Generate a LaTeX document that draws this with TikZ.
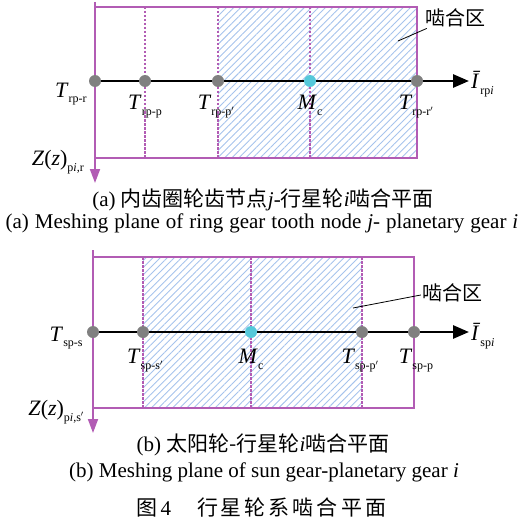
\documentclass[tikz,border=0pt]{standalone}
\usepackage{fontspec}
\setmainfont{Liberation Serif}
\newfontfamily\cjk{Noto Sans CJK SC}
\usepackage{xcolor}
\usetikzlibrary{arrows.meta, positioning, patterns.meta}

\definecolor{plum}{HTML}{B25CB4}
\definecolor{hatchblue}{HTML}{A6C3EC}
\definecolor{dotgray}{HTML}{808080}
\definecolor{mccyan}{HTML}{55C8DA}

% italic symbol with upright subscript
\newcommand{\sym}[2]{\textit{#1}\raisebox{-0.55ex}{\fontsize{12}{12}\selectfont #2}}

\begin{document}
\begin{tikzpicture}[
    x=1pt, y=-1pt,
    frame/.style={draw=plum, line width=1.8pt},
    zaxis/.style={draw=plum, line width=1.8pt, -{Triangle[length=14pt,width=10pt]}},
    divider/.style={draw=plum, line width=1.3pt, dash pattern=on 2.5pt off 1.5pt},
    zone/.style={pattern={Lines[angle=45,distance=5pt,line width=0.9pt]}, pattern color=hatchblue},
    laxis/.style={draw, line width=2.8pt, -{Triangle[length=16pt,width=13pt]}},
    pt/.style={circle, fill=dotgray, minimum size=12pt, inner sep=0pt},
    mc/.style={pt, fill=mccyan},
    lbl/.style={font=\fontsize{22}{22}\selectfont, inner sep=1pt},
    leader/.style={draw, line width=0.8pt},
    zonetxt/.style={font=\cjk\fontsize{20}{20}\selectfont, inner sep=0pt},
    capzh/.style={font=\fontsize{21}{21}\selectfont, inner sep=0pt},
    capen/.style={font=\fontsize{21}{21}\selectfont, inner sep=0pt}
]
\useasboundingbox (0,0) rectangle (521,524);

% ---- (a) ring gear - planetary gear
\fill[zone] (218,7) rectangle (417,158);
\foreach \x in {145,218,310}
  \draw[divider] (\x,7) -- (\x,158);
\draw[frame] (95,7) rectangle (417,158);
\coordinate (za0) at (95,2);
\coordinate (za1) at (95,183);
\draw[zaxis] (za0) -- (za1);
\coordinate (la0) at (95,81);
\coordinate (la1) at (469,81);
\draw[laxis] (la0) -- (la1);

\node[pt] (rr)  at (95,81)  {};
\node[pt] (rp)  at (145,81) {};
\node[pt] (rpq) at (218,81) {};
\node[mc] (rmc) at (310,81) {};
\node[pt] (rrq) at (417,81) {};

\node[lbl, left=1pt of rr, yshift=-13pt]  {\sym{T}{rp-r}};
\node[lbl, below=7pt of rp]               {\sym{T}{rp-p}};
\node[lbl, below=7pt of rpq, xshift=-2pt] {\sym{T}{rp-p$'$}};
\node[lbl, below=7pt of rmc]              {\sym{M}{c}};
\node[lbl, below=7pt of rrq, xshift=-1pt] {\sym{T}{rp-r$'$}};
\node[lbl, right=1pt of la1, yshift=-3pt] {\sym{\=I}{rp\textit{i}}};
\node[lbl, left=10pt of za1, yshift=21pt] {\textit{Z}(\textit{z})\raisebox{-0.55ex}{\fontsize{12}{12}\selectfont p\textit{i},r}};

\node[zonetxt] (zoneA) at (455,18) {啮合区};
\coordinate (zoneApt) at (398,41);
\draw[leader] ([xshift=2pt,yshift=-1pt]zoneA.south west) -- (zoneApt);

\node[capzh] (capA) at (263,200) {(a) {\cjk 内齿圈轮齿节点}\textit{j}-{\cjk 行星轮}\textit{i}{\cjk 啮合平面}};
\node[capen] (capAen) at (262,223) {\spaceskip=6pt (a) Meshing plane of ring gear tooth node \textit{j}- planetary gear \textit{i}};

% ---- (b) sun gear - planetary gear
\fill[zone] (143,257) rectangle (362,408);
\foreach \x in {143,251,362}
  \draw[divider] (\x,257) -- (\x,408);
\draw[frame] (93,257) rectangle (414,408);
\coordinate (zb0) at (93,250);
\coordinate (zb1) at (93,433);
\draw[zaxis] (zb0) -- (zb1);
\coordinate (lb0) at (93,332);
\coordinate (lb1) at (469,332);
\draw[laxis] (lb0) -- (lb1);

\node[pt] (ss)  at (93,332)  {};
\node[pt] (ssq) at (143,332) {};
\node[mc] (smc) at (251,332) {};
\node[pt] (spq) at (362,332) {};
\node[pt] (sp)  at (414,332) {};

\node[lbl, left=3pt of ss, yshift=-6pt]   {\sym{T}{sp-s}};
\node[lbl, below=10pt of ssq, xshift=2pt] {\sym{T}{sp-s$'$}};
\node[lbl, below=10pt of smc]             {\sym{M}{c}};
\node[lbl, below=10pt of spq, xshift=-2pt] {\sym{T}{sp-p$'$}};
\node[lbl, below=10pt of sp, xshift=2pt]  {\sym{T}{sp-p}};
\node[lbl, right=1pt of lb1, yshift=-4pt] {\sym{\=I}{sp\textit{i}}};
\node[lbl, left=8pt of zb1, yshift=21pt] {\textit{Z}(\textit{z})\raisebox{-0.55ex}{\fontsize{12}{12}\selectfont p\textit{i},s$'$}};

\node[zonetxt] (zoneB) at (452,293) {啮合区};
\coordinate (zoneBpt) at (353,308);
\draw[leader] ([xshift=-1pt,yshift=-2pt]zoneB.west) -- (zoneBpt);

\node[capzh] (capB) at (263,445) {(b) {\cjk 太阳轮-行星轮}\textit{i}{\cjk 啮合平面}};
\node[capen] (capBen) at (264,472) {(b) Meshing plane of sun gear-planetary gear \textit{i}};
\node[capzh] (fig) at (261,508) {{\cjk 图}\,4\hspace{26pt}{\cjk 行\hspace{3pt}星\hspace{3pt}轮\hspace{3pt}系\hspace{3pt}啮\hspace{3pt}合\hspace{3pt}平\hspace{3pt}面}};
\end{tikzpicture}
\end{document}
